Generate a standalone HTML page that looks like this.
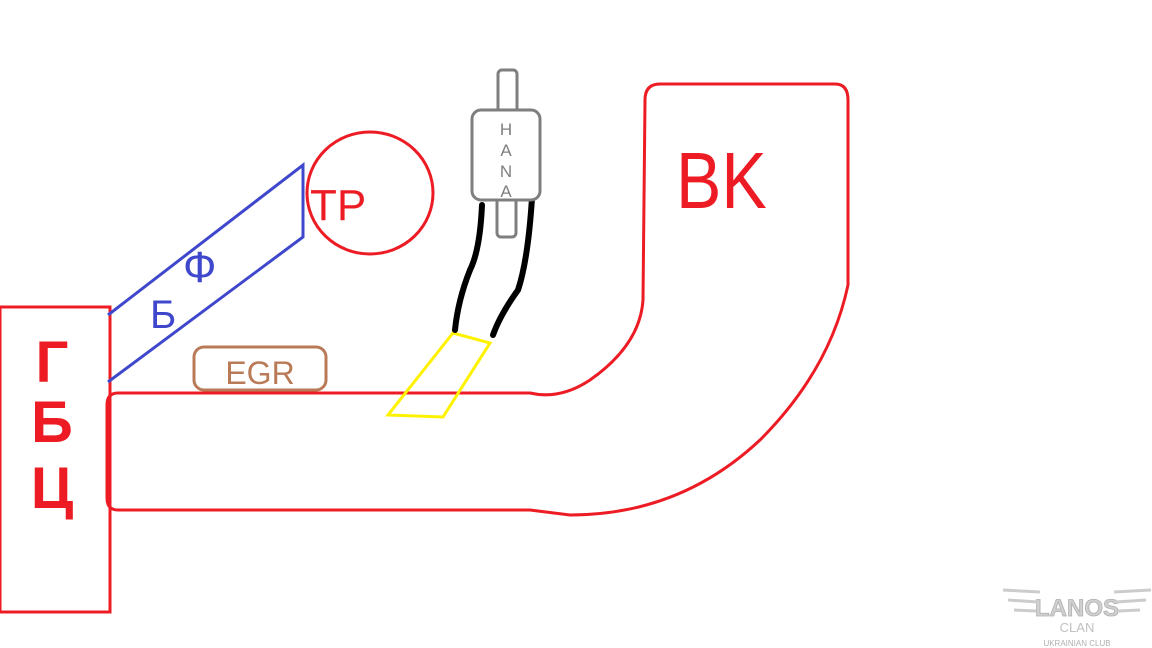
<!DOCTYPE html>
<html><head><meta charset="utf-8"><style>
html,body{margin:0;padding:0;background:#fff;width:1152px;height:648px;overflow:hidden}
svg{display:block}
text{font-family:"Liberation Sans","Noto Sans CJK SC",sans-serif}
</style></head><body>
<svg width="1152" height="648" viewBox="0 0 1152 648">
<g fill="none" stroke="#ed1c24" stroke-width="3">
<rect x="0" y="307" width="110" height="305"/>
<path d="M118 393 L530 393 Q560 400 590 380 Q640 345 643 300 L645 100 Q645 84 660 84 L835 84 Q848 84 848 100 L848 285 Q830 370 760 440 Q680 515 570 515 L530 510 L118 510 Q107 510 107 498 L107 405 Q107 393 118 393 Z"/>
<ellipse cx="370" cy="193" rx="63" ry="61"/>
</g>
<text x="310" y="220" font-size="44" fill="#ed1c24">TP</text>
<text transform="translate(676,208) scale(0.85,1)" font-size="80" fill="#ed1c24">BK</text>
<g fill="#ed1c24" font-size="58" font-weight="bold" text-anchor="middle">
<text x="52" y="382">Г</text>
<text x="52" y="442">Б</text>
<text x="52" y="508">Ц</text>
</g>
<path d="M108 315 L303 165 L303 237 L108 382" fill="none" stroke="#3f48cc" stroke-width="3"/>
<text x="150" y="328" font-size="40" fill="#3f48cc">Б</text>
<text x="183" y="282" font-size="44" fill="#3f48cc">Ф</text>
<rect x="194" y="347" width="132" height="43" rx="10" fill="none" stroke="#b97a57" stroke-width="3"/>
<text x="260" y="384" font-size="32" fill="#b97a57" text-anchor="middle">EGR</text>
<path d="M453 333 L490 343 L443 417 L388 415 Z" fill="none" stroke="#fff200" stroke-width="3"/>
<g fill="none" stroke="#000" stroke-width="6" stroke-linecap="round">
<path d="M482 205 Q480 250 470 270 Q458 300 455 330"/>
<path d="M532 198 Q528 260 518 290 Q500 315 493 335"/>
</g>
<g fill="#fff" stroke="#7f7f7f" stroke-width="3">
<rect x="498" y="70" width="19" height="42" rx="4"/>
<rect x="497" y="198" width="19" height="39" rx="4"/>
<rect x="472" y="110" width="68" height="90" rx="9"/>
</g>
<g fill="#7f7f7f" font-size="17" text-anchor="middle">
<text x="506" y="135">H</text>
<text x="506" y="156">A</text>
<text x="506" y="177">N</text>
<text x="506" y="197">A</text>
</g>
<g text-anchor="middle">
<text x="1077" y="616" font-size="24" font-weight="bold" fill="#d0d0d0" stroke="#b0b0b0" stroke-width="0.8">LANOS</text>
<text x="1077" y="632" font-size="13" fill="#c0c0c0">CLAN</text>
<text x="1077" y="646" font-size="8" fill="#b0b0b0">UKRAINIAN CLUB</text>
</g>
<path d="M1003 590 L1040 592 M1008 600 L1038 602 M1014 610 L1036 611 M1151 590 L1114 592 M1146 600 L1116 602 M1140 610 L1118 611" stroke="#ccc" stroke-width="3"/>
</svg>
</body></html>
